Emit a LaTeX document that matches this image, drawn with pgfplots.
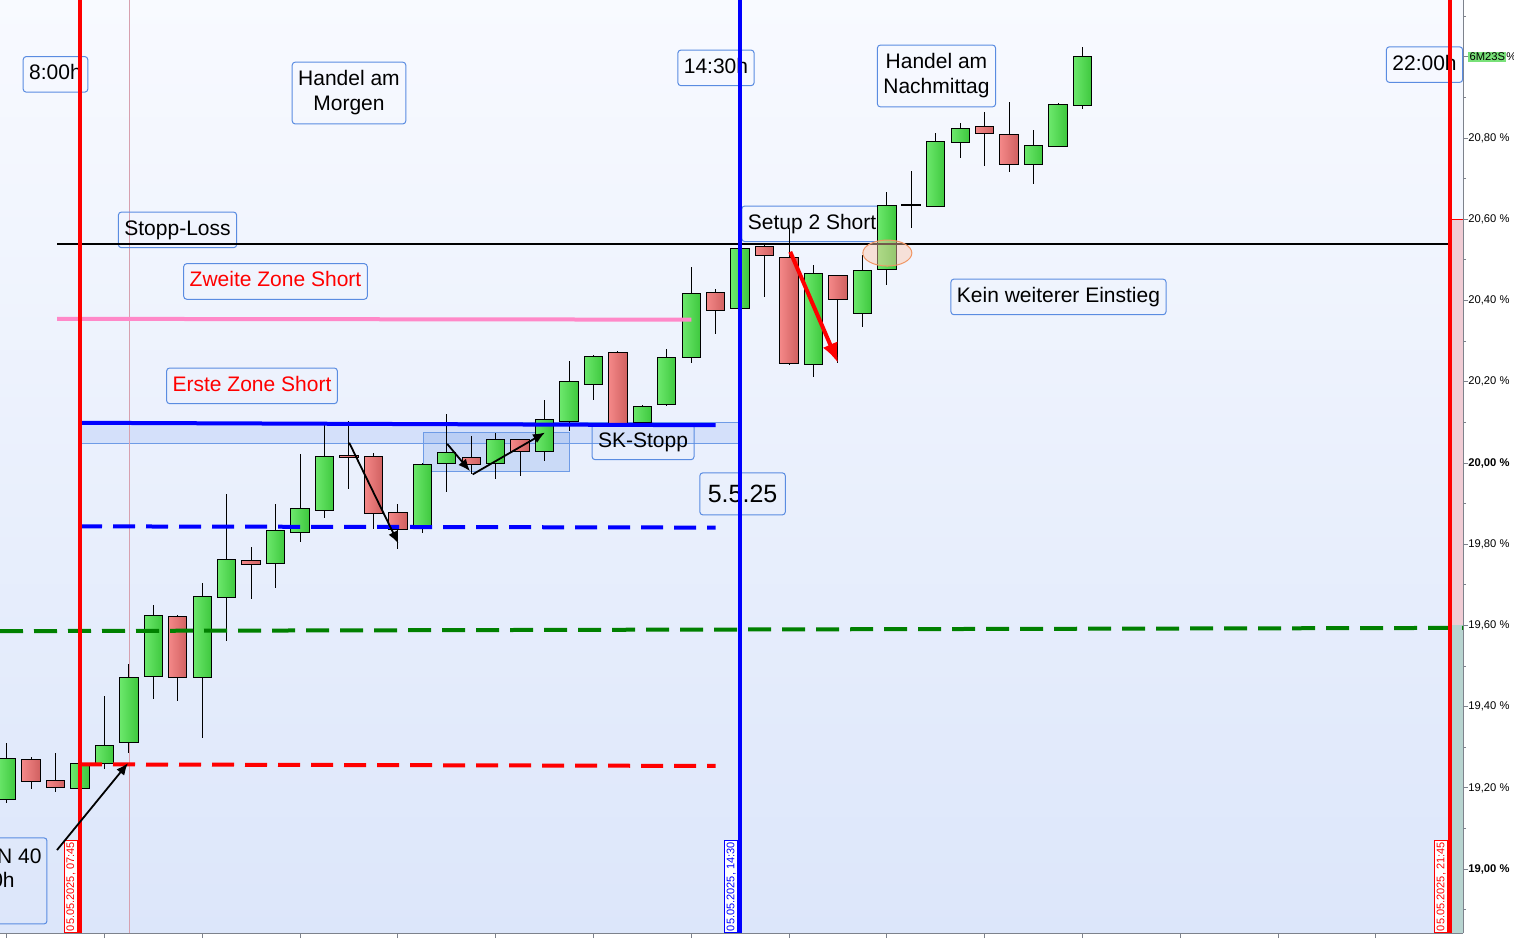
\documentclass[border=0pt]{standalone}
\usepackage{fontspec}
\setmainfont{Liberation Sans}
\usepackage{pgfplots}
\usepackage{pgfplotstable}
\pgfplotsset{compat=1.18}
\usepgfplotslibrary{statistics}
\usetikzlibrary{arrows.meta,shapes.geometric}

\definecolor{gL}{RGB}{108,232,108}
\definecolor{gR}{RGB}{62,200,62}
\definecolor{rL}{RGB}{244,136,136}
\definecolor{rR}{RGB}{208,96,96}
\definecolor{bgTop}{RGB}{248,250,255}
\definecolor{bgBot}{RGB}{220,230,250}
\definecolor{boxc}{RGB}{90,140,225}
\definecolor{pinkL}{RGB}{255,136,200}
\definecolor{dgreen}{RGB}{0,128,0}
\definecolor{bandc}{RGB}{212,224,250}
\definecolor{bandE}{RGB}{110,155,230}
\definecolor{axisgray}{RGB}{125,130,140}
\definecolor{thinl}{RGB}{215,160,175}
\definecolor{stripP}{RGB}{240,204,212}
\definecolor{stripT}{RGB}{184,212,208}
\definecolor{tag}{RGB}{120,225,120}
\definecolor{orangeE}{RGB}{240,150,100}
\definecolor{orangeF}{RGB}{255,200,170}

% 15-Minuten-Kerzen, x = Kerze ab 07:45
\pgfplotstableread{
x up lo bl bh hi
-3 1 19.162 19.172 19.273 19.310
-2 0 19.197 19.216 19.270 19.275
-1 0 19.191 19.201 19.219 19.285
0 1 19.197 19.199 19.261 19.263
1 1 19.246 19.261 19.305 19.426
2 1 19.287 19.312 19.472 19.505
3 1 19.420 19.475 19.625 19.650
4 0 19.415 19.472 19.623 19.625
5 1 19.324 19.472 19.672 19.704
6 1 19.562 19.669 19.763 19.924
7 0 19.664 19.751 19.760 19.793
8 1 19.693 19.753 19.834 19.899
9 1 19.806 19.829 19.888 20.022
10 1 19.865 19.884 20.016 20.096
11 0 19.937 20.014 20.019 20.103
12 0 19.837 19.876 20.016 20.024
13 0 19.789 19.837 19.879 19.898
14 1 19.827 19.840 19.997 19.999
15 1 19.928 19.999 20.026 20.121
16 0 19.972 19.997 20.014 20.066
17 1 19.960 19.999 20.058 20.073
18 0 19.967 20.029 20.058 20.060
19 1 20.004 20.029 20.108 20.154
20 1 20.078 20.103 20.201 20.250
21 1 20.154 20.194 20.263 20.265
22 0 20.094 20.098 20.273 20.275
23 1 20.096 20.100 20.140 20.142
24 1 20.140 20.145 20.260 20.280
25 1 20.246 20.260 20.418 20.482
26 0 20.317 20.376 20.420 20.428
27 1 20.379 20.381 20.529 20.531
28 0 20.408 20.511 20.534 20.536
29 0 20.241 20.246 20.507 20.578
30 1 20.211 20.243 20.467 20.487
31 0 20.246 20.403 20.462 20.464
32 1 20.334 20.369 20.475 20.511
33 1 20.438 20.477 20.635 20.667
34 2 20.578 20.635 20.637 20.718
35 1 20.630 20.632 20.792 20.812
36 1 20.750 20.790 20.824 20.837
37 0 20.731 20.812 20.829 20.864
38 0 20.716 20.736 20.809 20.888
39 1 20.686 20.736 20.782 20.819
40 1 20.778 20.780 20.883 20.886
41 1 20.871 20.881 21.001 21.024
}\candles

\pgfplotsset{
  c1/.style={draw=black, line width=0.5pt, boxplot/every box/.style={left color=gL, right color=gR}},
  c0/.style={draw=black, line width=0.5pt, boxplot/every box/.style={left color=rL, right color=rR}},
  c2/.style={draw=black, line width=0.7pt},
}
\tikzset{
  lbl/.style={draw=boxc, line width=0.5pt, rounded corners=1.5pt, inner xsep=3pt, inner ysep=4pt,
    text height=7.6pt, text depth=2.2pt, font=\fontsize{10.5}{12.5}\selectfont},
  lbl2/.style={draw=boxc, line width=0.5pt, rounded corners=1.5pt, inner xsep=3pt, inner ysep=4.3pt,
    align=center, font=\fontsize{10.5}{12.5}\selectfont},
  datum/.style={rotate=90, anchor=south west, fill=white, line width=0.4pt, inner xsep=0.8pt,
    inner ysep=1pt, font=\fontsize{5.5}{6}\selectfont},
}

\begin{document}
\begin{tikzpicture}
\begin{axis}[
  name=ax,
  scale only axis,
  width=731.5pt, height=466.5pt,
  xmin=-3.272, xmax=56.565,
  ymin=18.8427, ymax=21.1401,
  axis x line*=bottom, axis y line*=right,
  axis line style={draw=axisgray, line width=0.5pt},
  xtick={-3,1,...,57}, xticklabels={},
  ytick={19,19.2,19.4,19.6,19.8,20,20.2,20.4,20.6,20.8,21},
  minor ytick={18.9,19.1,19.3,19.5,19.7,19.9,20.1,20.3,20.5,20.7,20.9,21.1},
  yticklabels={{\textbf{19,00 \%}},{19,20 \%},{19,40 \%},{19,60 \%},{19,80 \%},{\textbf{20,00 \%}},
    {20,20 \%},{20,40 \%},{20,60 \%},{20,80 \%},{\setlength{\fboxsep}{0.6pt}\colorbox{tag}{6M23S}\%}},
  yticklabel style={font=\fontsize{5.6}{6.5}\selectfont, inner sep=0pt},
  tick align=outside,
  major tick length=2.5pt, minor tick length=1.5pt,
  tick style={axisgray, line width=0.5pt},
  axis background/.style={top color=bgTop, bottom color=bgBot},
  boxplot/draw direction=y,
  boxplot/box extend=0.75,
  boxplot/whisker extend=0,
]
% Streifen rechts
\addplot[fill=stripP, draw=none] coordinates {(56.12,19.6)(56.565,19.6)(56.565,20.6)(56.12,20.6)} -- cycle;
\addplot[fill=stripT, draw=none] coordinates {(56.12,18.8427)(56.565,18.8427)(56.565,19.6)(56.12,19.6)} -- cycle;
\addplot[red, line width=0.4pt] coordinates {(56.12,20.6)(56.565,20.6)};

% Zonen
\addplot[fill=bandc, draw=bandE, line width=0.5pt] coordinates {(0,20.049)(27,20.049)(27,20.100)(0,20.100)} -- cycle;
\addplot[fill=bandE, fill opacity=0.25, draw=bandE, line width=0.5pt] coordinates {(14.04,19.980)(20.01,19.980)(20.01,20.076)(14.04,20.076)} -- cycle;
\addplot[thinl, line width=0.5pt] coordinates {(2.02,18.8427)(2.02,21.1401)};

% Beschriftungen
\node[lbl] at (axis cs:-1.002,20.957) {8:00h};
\node[lbl2] at (axis cs:11.002,20.911) {Handel am\\Morgen};
\node[lbl] at (axis cs:26.012,20.973) {14:30h};
\node[lbl2] at (axis cs:35.03,20.953) {Handel am\\Nachmittag};
\node[lbl] at (axis cs:54.99,20.981) {22:00h};
\node[lbl] at (axis cs:3.988,20.574) {Stopp-Loss};
\node[lbl, text=red] at (axis cs:7.996,20.447) {Zweite Zone Short};
\node[lbl, text=red] at (axis cs:7.035,20.190) {Erste Zone Short};
\node[lbl] at (axis cs:23.03,20.052) {SK-Stopp};
\node[lbl, font=\fontsize{12.5}{14}\selectfont, inner xsep=4pt, inner ysep=6pt, text height=9pt, text depth=0pt] at (axis cs:27.1,19.924) {5.5.25};
\node[lbl] at (axis cs:29.94,20.589) {Setup 2 Short};
\node[lbl] at (axis cs:40.02,20.409) {Kein weiterer Einstieg};
\draw[boxc, line width=0.5pt, rounded corners=1.5pt] (axis cs:-5.7,18.865) rectangle (axis cs:-1.35,19.077);
\node[anchor=base east, inner sep=0pt, font=\fontsize{10.5}{12.5}\selectfont] at (axis cs:-1.554,19.0143) {N 40};
\node[anchor=base east, inner sep=0pt, font=\fontsize{10.5}{12.5}\selectfont] at (axis cs:-2.658,18.954) {8:00h};

% Kerzen
\pgfplotsinvokeforeach{0,...,44}{
  \pgfplotstablegetelem{#1}{up}\of\candles \let\vup\pgfplotsretval
  \pgfplotstablegetelem{#1}{lo}\of\candles \let\vlo\pgfplotsretval
  \pgfplotstablegetelem{#1}{bl}\of\candles \let\vbl\pgfplotsretval
  \pgfplotstablegetelem{#1}{bh}\of\candles \let\vbh\pgfplotsretval
  \pgfplotstablegetelem{#1}{hi}\of\candles \let\vhi\pgfplotsretval
  \edef\doplot{\noexpand\addplot[c\vup,
    boxplot prepared={draw position=#1-3,
      lower whisker=\vlo, lower quartile=\vbl, median=\vbl,
      upper quartile=\vbh, upper whisker=\vhi}] coordinates {};}
  \doplot
}

% Linien
\addplot[black, line width=1.25pt] coordinates {(-0.94,20.539)(56.04,20.539)};
\addplot[pinkL, line width=2pt] coordinates {(-0.94,20.355)(25,20.353)};
\addplot[blue, line width=2pt] coordinates {(0,20.099)(26,20.093)};
\addplot[blue, line width=2pt, dash pattern=on 11pt off 5.5pt] coordinates {(0,19.844)(26,19.841)};
\addplot[dgreen, line width=2pt, dash pattern=on 11.5pt off 5.5pt] coordinates {(-3.272,19.586)(56.565,19.594)};
\addplot[red, line width=2pt, dash pattern=on 11pt off 5.5pt] coordinates {(0,19.258)(26,19.254)};

\addplot[red, line width=2pt] coordinates {(0,18.8427)(0,21.1401)};
\addplot[blue, line width=2pt] coordinates {(27,18.8427)(27,21.1401)};
\addplot[red, line width=2pt] coordinates {(56.04,18.8427)(56.04,21.1401)};

\node[datum, draw=red, text=red] at ([xshift=-1pt]axis cs:0,18.8427) {05.05.2025, 07:45};
\node[datum, draw=blue, text=blue] at ([xshift=-1pt]axis cs:27,18.8427) {05.05.2025, 14:30};
\node[datum, draw=red, text=red] at ([xshift=-1pt]axis cs:56.04,18.8427) {05.05.2025, 21:45};

% Pfeile
\addplot[black, line width=0.9pt, -{Latex[length=6pt,width=5pt]}] coordinates {(-0.94,19.047)(1.963,19.261)};
\addplot[black, line width=0.9pt, -{Latex[length=6pt,width=5pt]}] coordinates {(11.01,20.050)(13.02,19.802)};
\addplot[black, line width=0.9pt, -{Latex[length=6pt,width=5pt]}] coordinates {(15.02,20.047)(15.95,19.980)};
\addplot[black, line width=0.9pt, -{Latex[length=6pt,width=5pt]}] coordinates {(16.06,19.972)(19.02,20.075)};
\addplot[red, line width=2pt, -{Latex[length=10pt,width=8pt]}] coordinates {(29.05,20.520)(31.01,20.246)};

\node[ellipse, draw=orangeE, fill=orangeF, fill opacity=0.45, minimum width=24.5pt, minimum height=13pt,
  inner sep=0pt, line width=0.5pt] at (axis cs:33.02,20.517) {};
\end{axis}
\pgfresetboundingbox
\path[use as bounding box] ([yshift=-2.5pt]ax.south west) rectangle ([xshift=25.5pt]ax.north east);
\end{tikzpicture}
\end{document}
